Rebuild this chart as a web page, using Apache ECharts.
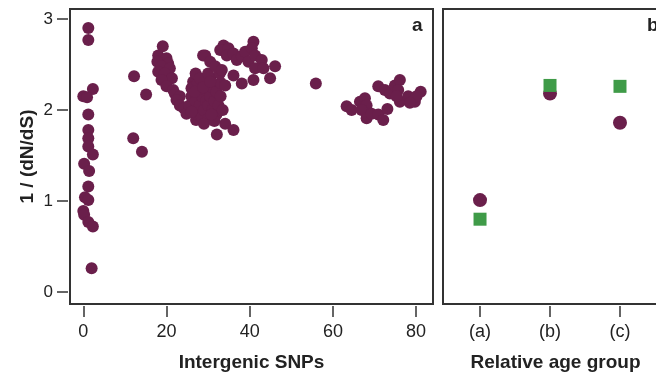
<!DOCTYPE html>
<html><head><meta charset="utf-8">
<script src="https://cdn.jsdelivr.net/npm/echarts@6/dist/echarts.min.js"></script>
<style>html,body{margin:0;padding:0;background:#fff}#c{width:656px;height:373px}</style>
</head><body><div id="c"></div>
<script>
// Panel a: intergenic SNPs vs 1/(dN/dS)
const snpX = [1.2,1.2,2.3,0.0,0.9,1.2,1.2,1.2,1.2,2.3,0.2,1.4,1.2,0.4,1.2,0.0,0.2,1.2,2.3,2.0,
  12.2,15.1,12.0,14.1,
  19.1,18.0,20.0,17.8,20.4,18.8,20.8,18.0,19.6,21.3,18.8,20.0,21.6,22.0,23.2,22.4,23.2,24.2,24.8,27.1,
  28.8,27.1,26.4,26.0,
  25.5,26,26.5,27,27,27.5,27.5,28,28,28.5,28.5,29,29,29.5,29.5,30,30,30.5,30.5,31,31,31.5,32,32,32.5,33,33,27,28,26,29,30,31.5,33.5,26.8,28.8,30.8,32.8,
  29.3,30.5,31.7,33.3,33.7,32.9,34.9,34.5,36.1,36.9,38.1,38.9,40.9,40.5,39.7,41.3,42.9,41.3,43.3,46.1,44.9,40.9,36.1,38.1,34.1,30.5,34.1,36.1,32.1,
  55.9,63.3,64.5,66.5,67.7,68.1,66.9,68.1,69.3,70.9,72.1,73.1,70.9,72.5,73.7,74.9,76.1,75.7,76.1,78.1,79.7,81.1,80.1,75.3,78.5];
const snpY = [2.90,2.77,2.23,2.15,2.14,1.95,1.78,1.69,1.60,1.51,1.41,1.33,1.16,1.04,1.01,0.89,0.85,0.77,0.72,0.26,
  2.37,2.17,1.69,1.54,
  2.70,2.60,2.57,2.53,2.51,2.48,2.46,2.42,2.40,2.35,2.33,2.26,2.22,2.18,2.15,2.11,2.05,2.02,1.96,1.89,
  2.60,2.38,2.31,2.24,
  2.05,2.15,2.25,2.0,2.1,2.3,1.95,2.2,2.05,2.15,1.92,2.3,2.0,2.1,2.22,1.9,2.05,2.15,2.35,2.0,2.25,2.1,1.95,2.2,2.05,2.3,2.15,2.4,2.35,1.98,1.85,2.4,1.88,2.0,2.2,2.25,1.95,2.4,
  2.60,2.53,2.48,2.44,2.71,2.66,2.68,2.60,2.62,2.55,2.59,2.64,2.75,2.68,2.53,2.60,2.55,2.46,2.46,2.48,2.35,2.33,2.38,2.29,2.27,2.31,1.85,1.78,1.73,
  2.29,2.04,2.00,2.09,2.13,2.05,2.00,1.91,1.96,1.95,1.89,2.01,2.26,2.22,2.18,2.27,2.33,2.22,2.09,2.15,2.09,2.20,2.15,2.15,2.08];
const xTicks = [0,20,40,60,80];
const yTicks = [0,1,2,3];

// Panel b: relative age groups
const groupLabels = ['(a)','(b)','(c)'];
const groupPos = [1,2,3];
const circleVals = [1.01,2.18,1.86];
const squareVals = [0.80,2.27,2.26];

const purple = '#6a1f4b', green = '#3f9b48', ink = '#333';
const font = 'Liberation Sans, Arial, Helvetica, sans-serif';

const chart = echarts.init(document.getElementById('c'), null, {renderer:'canvas'});
const nameStyle = {fontSize:19, fontWeight:'bold', color:'#222', fontFamily:font};
function tickAxis(vals, size, margin, extra) {
  return Object.assign({
    axisLine:{show:false, onZero:false},
    splitLine:{show:false},
    axisTick:{show:true, inside:false, length:11, customValues:vals, lineStyle:{color:ink, width:1.5}},
    axisLabel:{color:'#222', fontSize:size, fontFamily:font, customValues:vals, margin:margin},
    nameMoveOverlap:false
  }, extra);
}
const letterStyle = {fontSize:19, fontWeight:'bold', color:'#222', fontFamily:font};
chart.setOption({
  animation:false,
  title:[
    {text:'a', left:412, top:16, padding:0, textStyle:letterStyle},
    {text:'b', left:647, top:16, padding:0, textStyle:letterStyle}
  ],
  grid:[
    {left:70, top:9, width:363, height:295, show:true, borderColor:ink, borderWidth:2, backgroundColor:'transparent', outerBoundsMode:'none'},
    {left:443, top:9, width:225, height:295, show:true, borderColor:ink, borderWidth:2, backgroundColor:'transparent', outerBoundsMode:'none'}
  ],
  xAxis:[
    tickAxis(xTicks, 18, 17, {gridIndex:0, type:'value', min:-3.2, max:84.06, offset:2,
      name:'Intergenic SNPs', nameLocation:'middle', nameGap:47, nameTextStyle:nameStyle}),
    tickAxis(groupPos, 18, 17, {gridIndex:1, type:'value', min:0.471, max:3.686, offset:2,
      axisLabel:{color:'#222', fontSize:18, fontFamily:font, customValues:groupPos, margin:17,
        formatter:v=>groupLabels[groupPos.indexOf(v)] || ''},
      name:'Relative age group', nameLocation:'middle', nameGap:47, nameTextStyle:nameStyle})
  ],
  yAxis:[
    tickAxis(yTicks, 17, 15, {gridIndex:0, type:'value', min:-0.132, max:3.11, offset:2,
      name:'1 / (dN/dS)', nameLocation:'middle', nameGap:31, nameRotate:90, nameTextStyle:nameStyle}),
    {gridIndex:1, type:'value', min:-0.132, max:3.11, show:false}
  ],
  series:[
    {type:'scatter', xAxisIndex:0, yAxisIndex:0, symbol:'circle', symbolSize:12,
      itemStyle:{color:purple, opacity:1}, data:snpX.map((x,i)=>[x,snpY[i]])},
    {type:'scatter', xAxisIndex:1, yAxisIndex:1, symbol:'circle', symbolSize:14,
      itemStyle:{color:purple, opacity:1}, data:groupPos.map((x,i)=>[x,circleVals[i]])},
    {type:'scatter', xAxisIndex:1, yAxisIndex:1, symbol:'rect', symbolSize:13,
      itemStyle:{color:green, opacity:1}, data:groupPos.map((x,i)=>[x,squareVals[i]])}
  ]
});
</script></body></html>
